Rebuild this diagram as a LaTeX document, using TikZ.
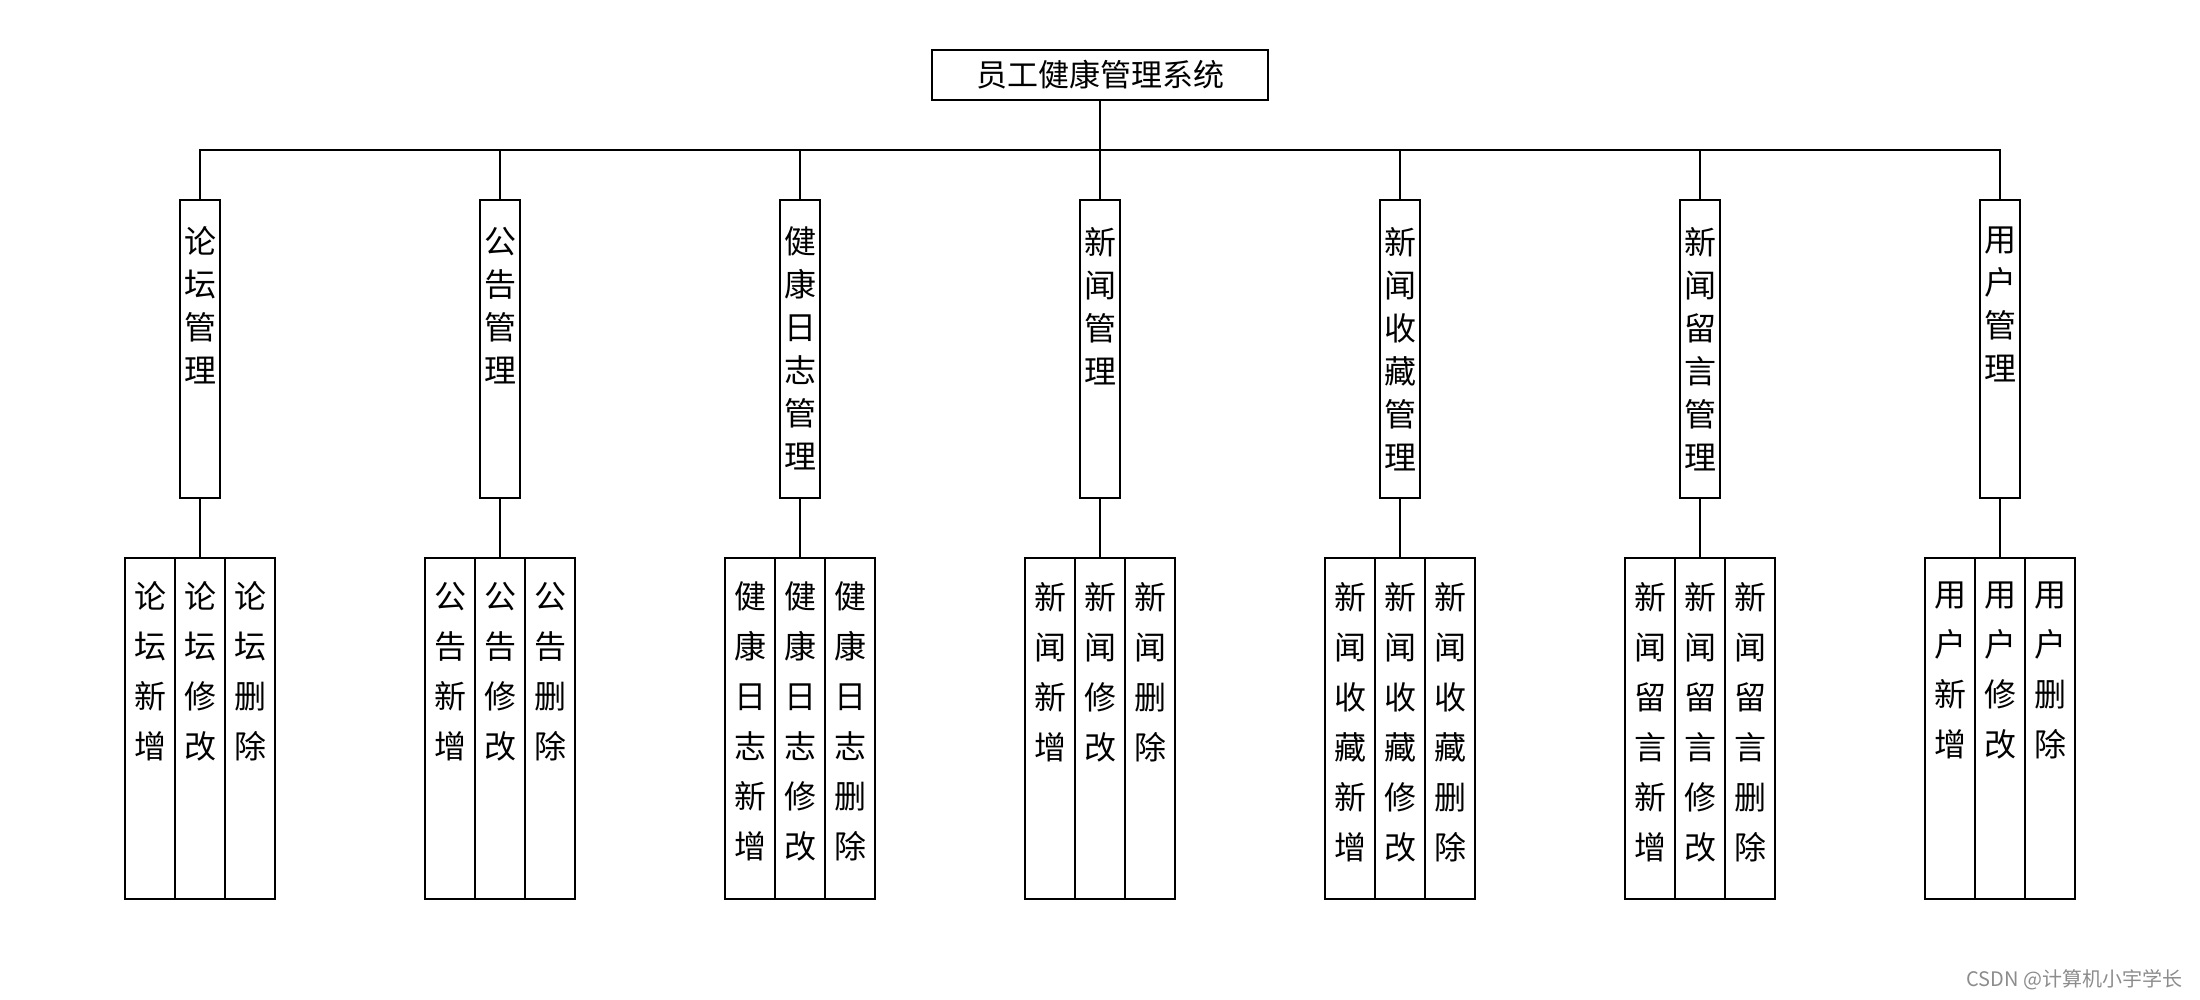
\documentclass[tikz,border=0pt]{standalone}
\usepackage{fontspec}
\setmainfont{Noto Sans CJK SC}
\begin{document}
\begin{tikzpicture}[x=0.5pt,y=-0.5pt, line width=0.6pt,
  box/.style={draw, inner sep=0pt, rectangle},
  subbox/.style={box, minimum width=20pt, minimum height=149pt},
  leafbox/.style={box, minimum width=25pt, minimum height=170.5pt},
  vsub/.style={anchor=north, inner sep=0pt, align=center, font=\fontsize{16}{21.5}\selectfont},
  vleaf/.style={anchor=north, inner sep=0pt, align=center, font=\fontsize{16}{25}\selectfont}]
\useasboundingbox (0,0) rectangle (2200,1000);
\node[box, minimum width=168pt, minimum height=25pt, font=\fontsize{15.5}{18}\selectfont] (root) at (1100,75) {员工健康管理系统};
\coordinate (bus) at (1100,150);
\foreach \i/\x/\p/\q in {1/200/{论\\坛}/{},2/500/{公\\告}/{},3/800/{健\\康}/{日\\志},4/1100/{新\\闻}/{},5/1400/{新\\闻}/{收\\藏},6/1700/{新\\闻}/{留\\言},7/2000/{用\\户}/{}}{
  \node[subbox] (g\i) at (\x,349) {};
  \node[leafbox] (a\i) at (\x-50,728.5) {};
  \node[leafbox] (b\i) at (\x,728.5) {};
  \node[leafbox] (c\i) at (\x+50,728.5) {};
  \ifx\q\empty
    \node[vsub] (tg\i) at ([yshift=-13.5pt]g\i.north) {\p\\管\\理};
    \node[vleaf] (ta\i) at ([yshift=-12pt]a\i.north) {\p\\新\\增};
    \node[vleaf] (tb\i) at ([yshift=-12pt]b\i.north) {\p\\修\\改};
    \node[vleaf] (tc\i) at ([yshift=-12pt]c\i.north) {\p\\删\\除};
  \else
    \node[vsub] (tg\i) at ([yshift=-13.5pt]g\i.north) {\p\\\q\\管\\理};
    \node[vleaf] (ta\i) at ([yshift=-12pt]a\i.north) {\p\\\q\\新\\增};
    \node[vleaf] (tb\i) at ([yshift=-12pt]b\i.north) {\p\\\q\\修\\改};
    \node[vleaf] (tc\i) at ([yshift=-12pt]c\i.north) {\p\\\q\\删\\除};
  \fi
  \draw (root.south) -- (bus) -| (g\i.north);
  \draw (g\i.south) -- (b\i.north);
}
\node[anchor=east, inner sep=0pt, text=black!45, font=\fontsize{10}{12}\selectfont] (wm) at (2183,980) {CSDN @计算机小宇学长};
\end{tikzpicture}
\end{document}
